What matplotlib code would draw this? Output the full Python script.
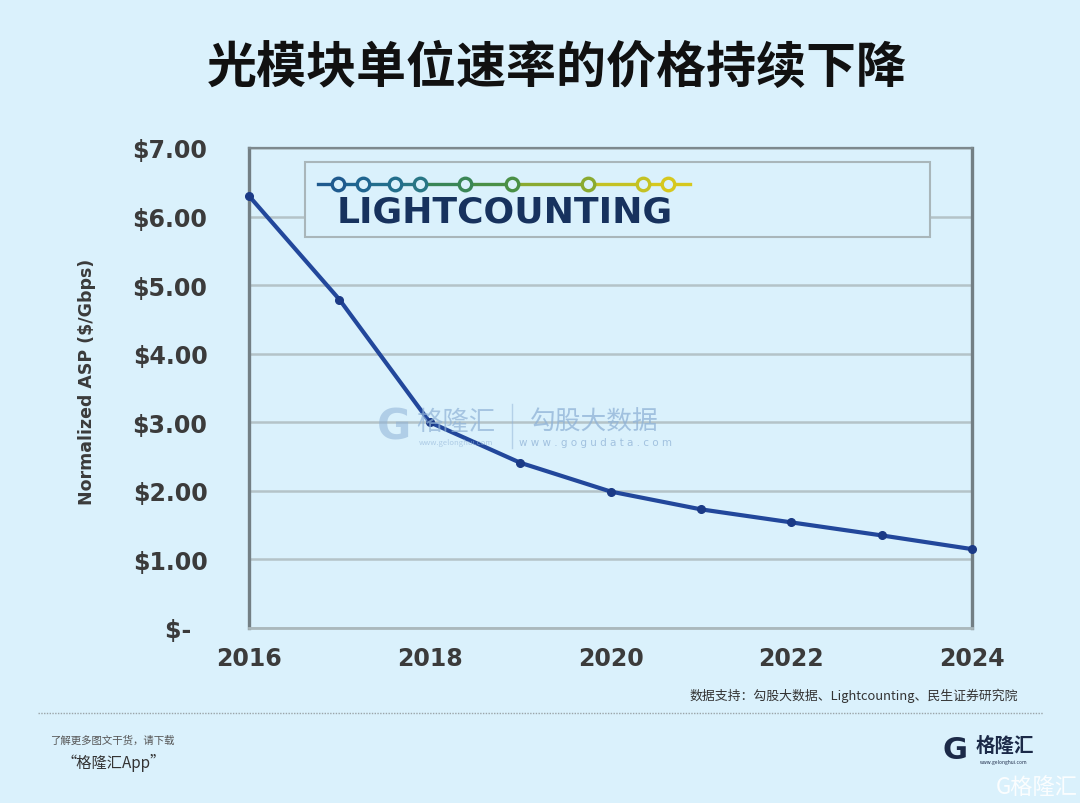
import matplotlib.pyplot as plt
from matplotlib.patches import Rectangle

plt.rcParams['font.family'] = ['Noto Sans CJK SC', 'DejaVu Sans']

# Data
years = [2016, 2017, 2018, 2019, 2020, 2021, 2022, 2023, 2024]
asp = [6.30, 4.79, 3.00, 2.41, 1.99, 1.73, 1.54, 1.35, 1.15]
y_ticks = [0, 1, 2, 3, 4, 5, 6, 7]
y_labels = [r"\$-  ", r"\$1.00", r"\$2.00", r"\$3.00", r"\$4.00", r"\$5.00", r"\$6.00", r"\$7.00"]
x_ticks = [2016, 2018, 2020, 2022, 2024]

title = "光模块单位速率的价格持续下降"
source = "数据支持：勾股大数据、Lightcounting、民生证券研究院"

bg = "#daf1fc"
line_blue = "#22479b"

fig = plt.figure(figsize=(10.8, 8.04), dpi=100, facecolor=bg)
ax = fig.add_axes([0.2306, 0.2177, 0.6694, 0.597])
ax.set_facecolor(bg)

ax.set_xlim(2016, 2024)
ax.set_ylim(0, 7)
ax.set_yticks(y_ticks)
ax.set_yticklabels(y_labels)
ax.set_xticks(x_ticks)
ax.set_xticklabels([str(x) for x in x_ticks])
ax.tick_params(axis="both", length=0, labelsize=17, labelcolor="#3b3b3b")
ax.tick_params(axis="y", pad=30)
ax.tick_params(axis="x", pad=13)
for lab in ax.get_xticklabels() + ax.get_yticklabels():
    lab.set_fontfamily("DejaVu Sans")
    lab.set_fontweight("bold")

ax.grid(axis="y", color="#b4c3c8", linewidth=1.8)
ax.set_axisbelow(True)

for side in ["left", "right"]:
    ax.spines[side].set_color("#737f84")
    ax.spines[side].set_linewidth(2.4)
ax.spines["top"].set_color("#7d898d")
ax.spines["top"].set_linewidth(1.6)
ax.spines["bottom"].set_color("#aab8bc")
ax.spines["bottom"].set_linewidth(2.0)

ax.set_ylabel("Normalized ASP ($/Gbps)", fontsize=12.5, fontweight="bold",
              color="#3b3b3b", family="DejaVu Sans")
ax.yaxis.set_label_coords(-0.212, 0.515)

ax.plot(years, asp, color=line_blue, linewidth=3.0, marker="o", markersize=5.5,
        markerfacecolor="#1b3a86", markeredgecolor="#1b3a86", zorder=5,
        clip_on=False)

# LightCounting logo box
ax.add_patch(Rectangle((0.0775, 0.8146), 0.8645, 0.1564, transform=ax.transAxes,
                       facecolor=bg, edgecolor="#a9b6ba", linewidth=1.5, zorder=3))
dot_x = [0.1231, 0.1577, 0.2020, 0.2365, 0.2988, 0.3638, 0.4689, 0.5450, 0.5795]
dot_c = ["#1f5a8e", "#1f6590", "#226e8c", "#287685", "#3a8656", "#4a9046",
         "#8aaa30", "#c4c224", "#d6c81e"]
ax.plot([0.0954, 0.1231], [0.925, 0.925], color=dot_c[0], lw=2.4,
        transform=ax.transAxes, zorder=4)
for i in range(len(dot_x) - 1):
    ax.plot([dot_x[i], dot_x[i + 1]], [0.925, 0.925], color=dot_c[i + 1], lw=2.4,
            transform=ax.transAxes, zorder=4)
ax.plot([0.5795, 0.610], [0.925, 0.925], color=dot_c[-1], lw=2.4,
        transform=ax.transAxes, zorder=4)
for x, c in zip(dot_x, dot_c):
    ax.plot([x], [0.925], marker="o", markersize=9, markerfacecolor=bg,
            markeredgecolor=c, markeredgewidth=2.4, transform=ax.transAxes,
            zorder=5)
ax.text(0.354, 0.868, "LIGHTCOUNTING", transform=ax.transAxes, ha="center",
        va="center", fontsize=26, fontweight="heavy", color="#17325e",
        family="DejaVu Sans", zorder=5)

# Title
fig.text(0.516, 0.915, title, ha="center", va="center", fontsize=36,
         fontweight="bold", color="#111111")

# Centre watermark
wm = "#8fb2d6"
fig.text(0.365, 0.468, "G", ha="center", va="center", fontsize=30,
         fontweight="heavy", color=wm, alpha=0.55, family="DejaVu Sans")
fig.text(0.422, 0.475, "格隆汇", ha="center", va="center", fontsize=19,
         color=wm, alpha=0.7)
fig.text(0.422, 0.449, "www.gelonghui.com", ha="center", va="center",
         fontsize=5.5, color=wm, alpha=0.6)
fig.add_artist(plt.Line2D([0.474, 0.474], [0.442, 0.496], color=wm, alpha=0.5,
                          lw=1.0, transform=fig.transFigure))
fig.text(0.550, 0.475, "勾股大数据", ha="center", va="center", fontsize=18.5,
         color=wm, alpha=0.75)
fig.text(0.551, 0.449, "w w w . g o g u d a t a . c o m", ha="center",
         va="center", fontsize=7.5, color=wm, alpha=0.75, family="DejaVu Sans")

# Footer
fig.text(0.943, 0.134, source, ha="right", va="center", fontsize=9.3,
         color="#333333")
fig.add_artist(plt.Line2D([0.035, 0.966], [0.112, 0.112], color="#9aa4a8",
                          lw=1.0, linestyle=(0, (1, 1)), transform=fig.transFigure))
fig.text(0.046, 0.079, "了解更多图文干货，请下载", ha="left", va="center",
         fontsize=7.5, color="#555555", style="italic")
fig.text(0.057, 0.051, "“格隆汇App”", ha="left", va="center",
         fontsize=11, color="#333333", style="italic")

fig.text(0.884, 0.066, "G", ha="center", va="center", fontsize=22,
         fontweight="heavy", color="#1c2a48", family="DejaVu Sans")
fig.text(0.930, 0.071, "格隆汇", ha="center", va="center", fontsize=14,
         fontweight="bold", color="#1c2a48")
fig.text(0.929, 0.051, "www.gelonghui.com", ha="center", va="center",
         fontsize=3.5, color="#1c2a48")
fig.text(0.960, 0.020, "G格隆汇", ha="center", va="center", fontsize=16,
         color="white", alpha=0.9)

fig.savefig("out.png", dpi=100, facecolor=bg)
